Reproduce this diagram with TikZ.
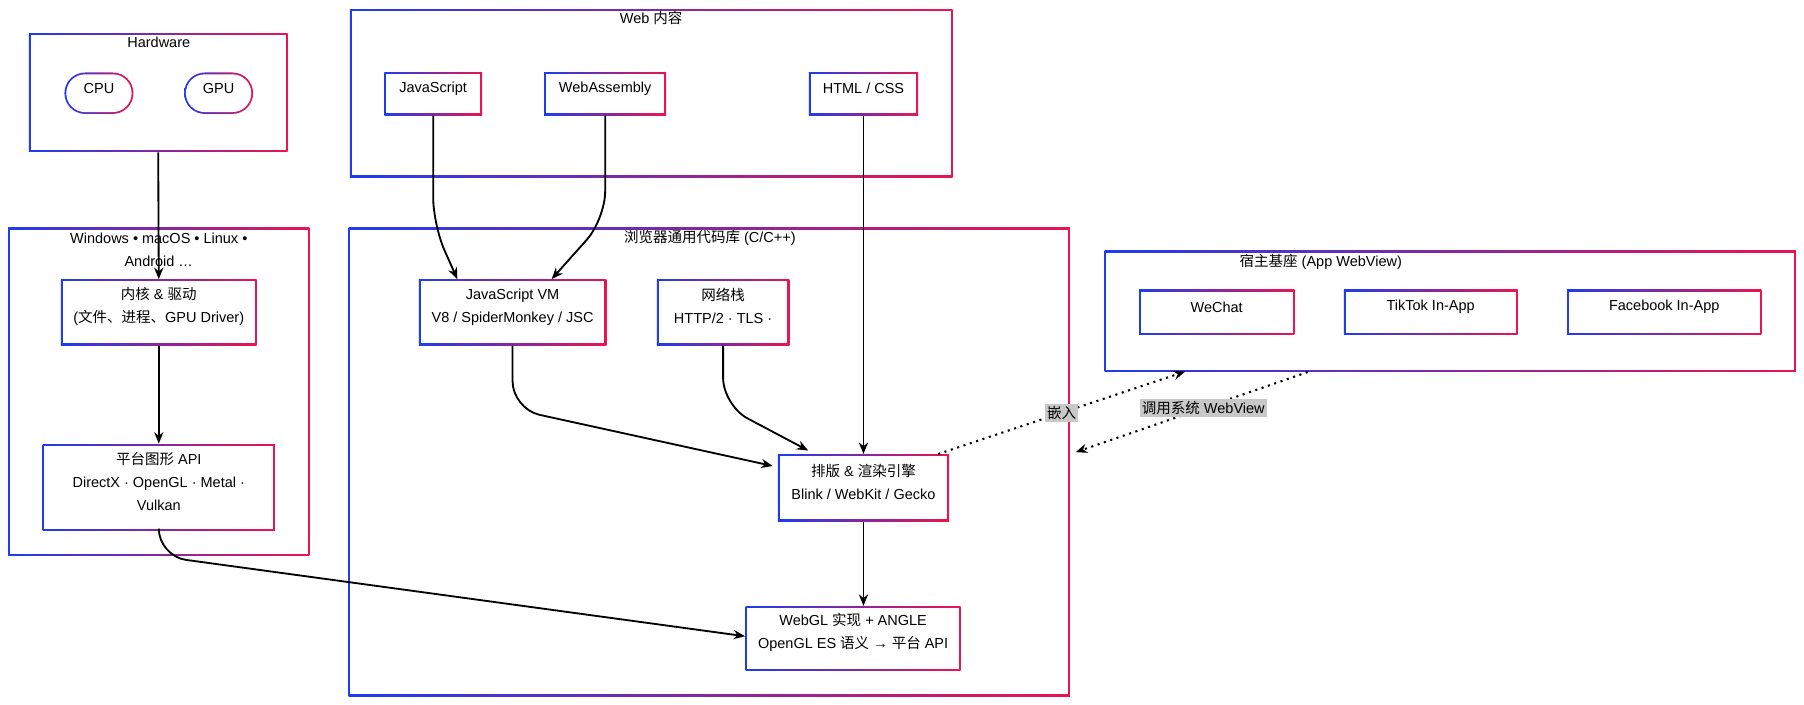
\documentclass[tikz,border=0pt]{standalone}
\usepackage{fontspec}
\setmainfont{Liberation Sans}
\newfontfamily\cjk{Noto Sans CJK SC}
\usetikzlibrary{fit, calc, arrows.meta}

\definecolor{gblue}{RGB}{30,60,240}
\definecolor{gred}{RGB}{235,20,80}
\definecolor{lblgray}{RGB}{200,200,200}

\tikzset{
  gbox/.style={rectangle, inner sep=0pt, font=\fontsize{6.3}{10}\selectfont,
    path picture={
      \shade[left color=gblue, right color=gred] (path picture bounding box.south west) rectangle (path picture bounding box.north east);
      \fill[white] ([shift={(0.8pt,0.8pt)}]path picture bounding box.south west) rectangle ([shift={(-0.8pt,-0.8pt)}]path picture bounding box.north east);
    }},
  gmulti/.style={gbox, align=center},
  gpill/.style={rectangle, rounded corners=9pt, inner sep=0pt, font=\fontsize{6.3}{10}\selectfont,
    path picture={
      \shade[left color=gblue, right color=gred] (path picture bounding box.south west) rectangle (path picture bounding box.north east);
      \fill[white, rounded corners=8.2pt] ([shift={(0.8pt,0.8pt)}]path picture bounding box.south west) rectangle ([shift={(-0.8pt,-0.8pt)}]path picture bounding box.north east);
    }},
  title/.style={font=\fontsize{6.3}{10}\selectfont, align=center, inner sep=0pt},
  arr/.style={-{Stealth[length=5pt, width=4pt]}, line width=0.8pt, rounded corners=12pt},
  dotarr/.style={-{Stealth[length=5pt, width=4pt]}, line width=0.9pt, dotted},
  elabel/.style={fill=lblgray, inner sep=1pt, font=\fontsize{6.3}{8}\selectfont}
}

\begin{document}
\begin{tikzpicture}[x=0.5pt,y=-0.5pt]
\useasboundingbox (0,0) rectangle (1568,612);

% containers
\node[gbox, fit={(25,29) (250,132)}] (hw) {};
\node[title] at (138,37) {Hardware};
\node[gbox, fit={(304,8) (828,154)}] (web) {};
\node[title] at (566,16) {Web {\cjk 内容}};
\node[gbox, fit={(7,198) (269,483)}] (os) {};
\node[title] at (138,217) {Windows • macOS • Linux •\\Android …};
\node[gbox, fit={(303,198) (930,605)}] (lib) {};
\node[title] at (617,207) {{\cjk 浏览器通用代码库} (C/C++)};
\node[gbox, fit={(960,218) (1561,323)}] (host) {};
\node[title] at (1148,228) {{\cjk 宿主基座} (App WebView)};

% hardware
\node[gpill, fit={(56,63) (116,99)}] (cpu) {CPU};
\node[gpill, fit={(160,63) (220,99)}] (gpu) {GPU};

% web content
\node[gbox, fit={(334,63) (419,100)}] (js) {JavaScript};
\node[gbox, fit={(473,63) (579,100)}] (wasm) {WebAssembly};
\node[gbox, fit={(703,63) (798,100)}] (html) {HTML / CSS};

% os
\node[gmulti, fit={(53,243) (223,300)}] (kernel) {{\cjk 内核} \& {\cjk 驱动}\\({\cjk 文件、进程、}GPU Driver)};
\node[gmulti, fit={(37,386) (239,461)}] (gfx) {{\cjk 平台图形} API\\DirectX · OpenGL · Metal ·\\Vulkan};

% browser library
\node[gmulti, fit={(364,243) (527,300)}] (jsvm) {JavaScript VM\\V8 / SpiderMonkey / JSC};
\node[gmulti, fit={(571,243) (686,300)}] (net) {{\cjk 网络栈}\\HTTP/2 · TLS ·};
\node[gmulti, fit={(676,395) (825,453)}] (engine) {{\cjk 排版} \& {\cjk 渲染引擎}\\Blink / WebKit / Gecko};
\node[gmulti, fit={(648,527) (835,583)}] (webgl) {WebGL {\cjk 实现} + ANGLE\\OpenGL ES {\cjk 语义} → {\cjk 平台} API};

% host apps
\node[gbox, fit={(990,252) (1125,291)}] (wechat) {WeChat};
\node[gbox, fit={(1168,252) (1319,291)}] (tiktok) {TikTok In-App};
\node[gbox, fit={(1362,252) (1531,291)}] (fb) {Facebook In-App};

% connectors
\draw[arr] (hw.south) -- (kernel.north);
\draw[arr] (kernel.south) -- (gfx.north);
\draw[arr] (gfx.south) -- ($(gfx.south)+(0,22)$) -- ($(webgl.west)+(0,-2)$);
\draw[arr] (js.south) -- ($(js.south)+(0,95)$) -- ($(jsvm.north)+(-48,0)$);
\draw[arr] (wasm.south) -- ($(wasm.south)+(0,90)$) -- ($(jsvm.north)+(34,0)$);
\draw[arr] (html.south) -- (html.south |- engine.north);
\draw[arr] (jsvm.south) -- ($(jsvm.south)+(0,55)$) -- ($(engine.west)+(-4,-19)$);
\draw[arr] (net.south) -- ($(net.south)+(0,52)$) -- ($(engine.north)+(-48,-3)$);
\draw[arr] (engine.south) -- (webgl.north -| engine.south);
\coordinate (embed) at (1030,323);
\coordinate (callend) at (935,393);
\draw[dotarr] ($(engine.north east)+(-10,0)$) -- node[elabel, pos=0.5] {\cjk 嵌入} (embed);
\draw[dotarr] ($(host.south west)+(177,0)$) -- node[elabel, pos=0.45] {{\cjk 调用系统} WebView} (callend);
\end{tikzpicture}
\end{document}
